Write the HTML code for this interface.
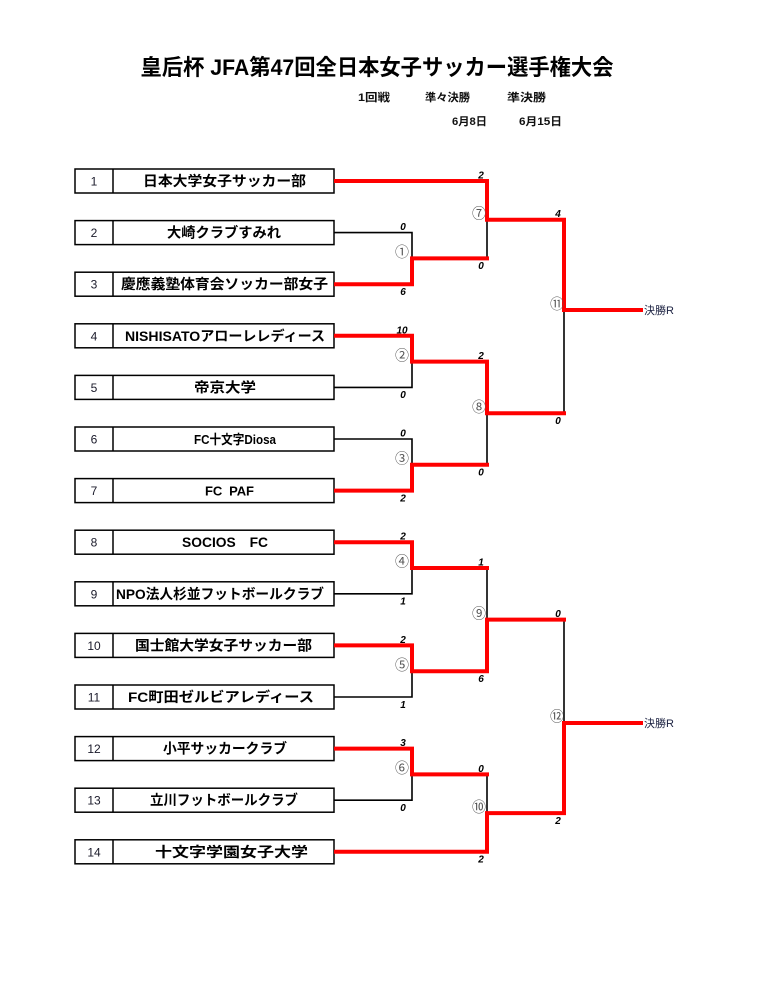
<!DOCTYPE html>
<html>
<head>
<meta charset="utf-8">
<style>
html,body{margin:0;padding:0;background:#fff;}
svg{display:block;}
text{font-family:"Liberation Sans","Noto Sans CJK JP",sans-serif;}
.t{font-weight:bold;font-size:14px;fill:#000;}
.n{font-size:12px;fill:#1a1a2a;}
.s{font-weight:bold;font-style:italic;font-size:10px;fill:#000;}
.c{font-size:14px;fill:#555;}
.h{font-weight:bold;font-size:11px;fill:#111;}
</style>
</head>
<body>
<svg width="767" height="997" viewBox="0 0 767 997" xmlns="http://www.w3.org/2000/svg">
<rect width="767" height="997" fill="#fff"/>
<text x="377" y="75" text-anchor="middle" font-size="22" font-weight="bold" textLength="473" lengthAdjust="spacingAndGlyphs" fill="#000">皇后杯 JFA第47回全日本女子サッカー選手権大会</text>

<text class="h" x="358" y="101" textLength="32" lengthAdjust="spacingAndGlyphs">1回戦</text>
<text class="h" x="425" y="101" textLength="45" lengthAdjust="spacingAndGlyphs">準々決勝</text>
<text class="h" x="507" y="101" textLength="39" lengthAdjust="spacingAndGlyphs">準決勝</text>
<text class="h" x="452" y="125" textLength="35" lengthAdjust="spacingAndGlyphs">6月8日</text>
<text class="h" x="519" y="125" textLength="43" lengthAdjust="spacingAndGlyphs">6月15日</text>

<!-- boxes -->
<g fill="#fff" stroke="#000" stroke-width="1.5">
<rect x="75" y="169" width="259" height="24"/>
<rect x="75" y="220.6" width="259" height="24"/>
<rect x="75" y="272.2" width="259" height="24"/>
<rect x="75" y="323.8" width="259" height="24"/>
<rect x="75" y="375.4" width="259" height="24"/>
<rect x="75" y="427" width="259" height="24"/>
<rect x="75" y="478.6" width="259" height="24"/>
<rect x="75" y="530.2" width="259" height="24"/>
<rect x="75" y="581.8" width="259" height="24"/>
<rect x="75" y="633.4" width="259" height="24"/>
<rect x="75" y="685" width="259" height="24"/>
<rect x="75" y="736.6" width="259" height="24"/>
<rect x="75" y="788.2" width="259" height="24"/>
<rect x="75" y="839.8" width="259" height="24"/>
</g>
<g stroke="#000" stroke-width="1.5">
<line x1="113" y1="169" x2="113" y2="193"/>
<line x1="113" y1="220.6" x2="113" y2="244.6"/>
<line x1="113" y1="272.2" x2="113" y2="296.2"/>
<line x1="113" y1="323.8" x2="113" y2="347.8"/>
<line x1="113" y1="375.4" x2="113" y2="399.4"/>
<line x1="113" y1="427" x2="113" y2="451"/>
<line x1="113" y1="478.6" x2="113" y2="502.6"/>
<line x1="113" y1="530.2" x2="113" y2="554.2"/>
<line x1="113" y1="581.8" x2="113" y2="605.8"/>
<line x1="113" y1="633.4" x2="113" y2="657.4"/>
<line x1="113" y1="685" x2="113" y2="709"/>
<line x1="113" y1="736.6" x2="113" y2="760.6"/>
<line x1="113" y1="788.2" x2="113" y2="812.2"/>
<line x1="113" y1="839.8" x2="113" y2="863.8"/>
</g>

<!-- numbers -->
<g class="n" text-anchor="middle">
<text x="94" y="185.5">1</text>
<text x="94" y="237.1">2</text>
<text x="94" y="288.7">3</text>
<text x="94" y="340.3">4</text>
<text x="94" y="391.9">5</text>
<text x="94" y="443.5">6</text>
<text x="94" y="495.1">7</text>
<text x="94" y="546.7">8</text>
<text x="94" y="598.3">9</text>
<text x="94" y="649.9">10</text>
<text x="94" y="701.5">11</text>
<text x="94" y="753.1">12</text>
<text x="94" y="804.7">13</text>
<text x="94" y="856.3">14</text>
</g>

<!-- team names -->
<g class="t" text-anchor="middle">
<text x="224.5" y="186" textLength="163" lengthAdjust="spacingAndGlyphs">日本大学女子サッカー部</text>
<text x="224" y="237.6" textLength="114" lengthAdjust="spacingAndGlyphs">大崎クラブすみれ</text>
<text x="224.5" y="289.2" textLength="207" lengthAdjust="spacingAndGlyphs">慶應義塾体育会ソッカー部女子</text>
<text x="225" y="340.8" textLength="200" lengthAdjust="spacingAndGlyphs">NISHISATOアローレレディース</text>
<text x="225" y="392.4" textLength="62" lengthAdjust="spacingAndGlyphs">帝京大学</text>
<text x="235" y="444" font-size="13" textLength="82" lengthAdjust="spacingAndGlyphs">FC十文字Diosa</text>
<text x="229.5" y="495.6" font-size="13" textLength="49" lengthAdjust="spacing" style="white-space:pre">FC  PAF</text>
<text x="225" y="547.2" textLength="86" lengthAdjust="spacingAndGlyphs">SOCIOS　FC</text>
<text x="220" y="598.8" textLength="208" lengthAdjust="spacingAndGlyphs">NPO法人杉並フットボールクラブ</text>
<text x="223.5" y="650.4" textLength="177" lengthAdjust="spacingAndGlyphs">国士館大学女子サッカー部</text>
<text x="221" y="702" textLength="186" lengthAdjust="spacingAndGlyphs">FC町田ゼルビアレディース</text>
<text x="225" y="753.6" textLength="124" lengthAdjust="spacingAndGlyphs">小平サッカークラブ</text>
<text x="224" y="805.2" textLength="148" lengthAdjust="spacingAndGlyphs">立川フットボールクラブ</text>
<text x="231.5" y="856.8" textLength="153" lengthAdjust="spacingAndGlyphs">十文字学園女子大学</text>
</g>

<!-- black connectors -->
<g fill="none" stroke="#000" stroke-width="1.6">
<path d="M334,232.6 H412 V258.4"/>
<path d="M487,219.7 V258.4"/>
<path d="M564,310 V413.2"/>
<path d="M334,387.4 H412 V361.6"/>
<path d="M334,439 H412 V464.8"/>
<path d="M487,413.2 V464.8"/>
<path d="M334,593.8 H412 V568"/>
<path d="M487,568 V619.6"/>
<path d="M334,697 H412 V671.2"/>
<path d="M564,619.6 V723"/>
<path d="M334,800.2 H412 V774.4"/>
<path d="M487,774.4 V813.1"/>
</g>

<!-- red connectors -->
<g fill="none" stroke="#ff0000" stroke-width="4" stroke-linejoin="miter" stroke-linecap="square">
<path d="M336,181 H487 V219.7 H564 V310 H641"/>
<path d="M336,284.2 H412 V258.4 H487"/>
<path d="M336,335.8 H412 V361.6 H487 V413.2 H564"/>
<path d="M336,490.6 H412 V464.8 H487"/>
<path d="M336,542.2 H412 V568 H487"/>
<path d="M336,645.4 H412 V671.2 H487 V619.6 H564"/>
<path d="M336,748.6 H412 V774.4 H487"/>
<path d="M336,851.8 H487 V813.1 H564 V723 H641"/>
</g>

<!-- scores -->
<g class="s" text-anchor="middle">
<text x="403" y="230">0</text>
<text x="403" y="295">6</text>
<text x="402" y="333.3">10</text>
<text x="403" y="398">0</text>
<text x="403" y="436.5">0</text>
<text x="403" y="501.5">2</text>
<text x="403" y="539.7">2</text>
<text x="403" y="604.5">1</text>
<text x="403" y="643">2</text>
<text x="403" y="708">1</text>
<text x="403" y="746">3</text>
<text x="403" y="811">0</text>

<text x="481" y="178.5">2</text>
<text x="481" y="269">0</text>
<text x="481" y="359">2</text>
<text x="481" y="475.5">0</text>
<text x="481" y="565.5">1</text>
<text x="481" y="682">6</text>
<text x="481" y="772">0</text>
<text x="481" y="862.5">2</text>

<text x="558" y="217">4</text>
<text x="558" y="424">0</text>
<text x="558" y="617">0</text>
<text x="558" y="824">2</text>
</g>

<!-- match numbers -->
<g class="c" text-anchor="middle">
<text x="402" y="257">①</text>
<text x="402" y="360.5">②</text>
<text x="402" y="463.5">③</text>
<text x="402" y="566.5">④</text>
<text x="402" y="670">⑤</text>
<text x="402" y="773">⑥</text>
<text x="479" y="218.5">⑦</text>
<text x="479" y="412">⑧</text>
<text x="479" y="618.5">⑨</text>
<text x="479" y="812">⑩</text>
<text x="557" y="309">⑪</text>
<text x="557" y="721.5">⑫</text>
</g>

<text x="644" y="314" font-size="11" fill="#1a2040">決勝R</text>
<text x="644" y="727" font-size="11" fill="#1a2040">決勝R</text>
</svg>
</body>
</html>
